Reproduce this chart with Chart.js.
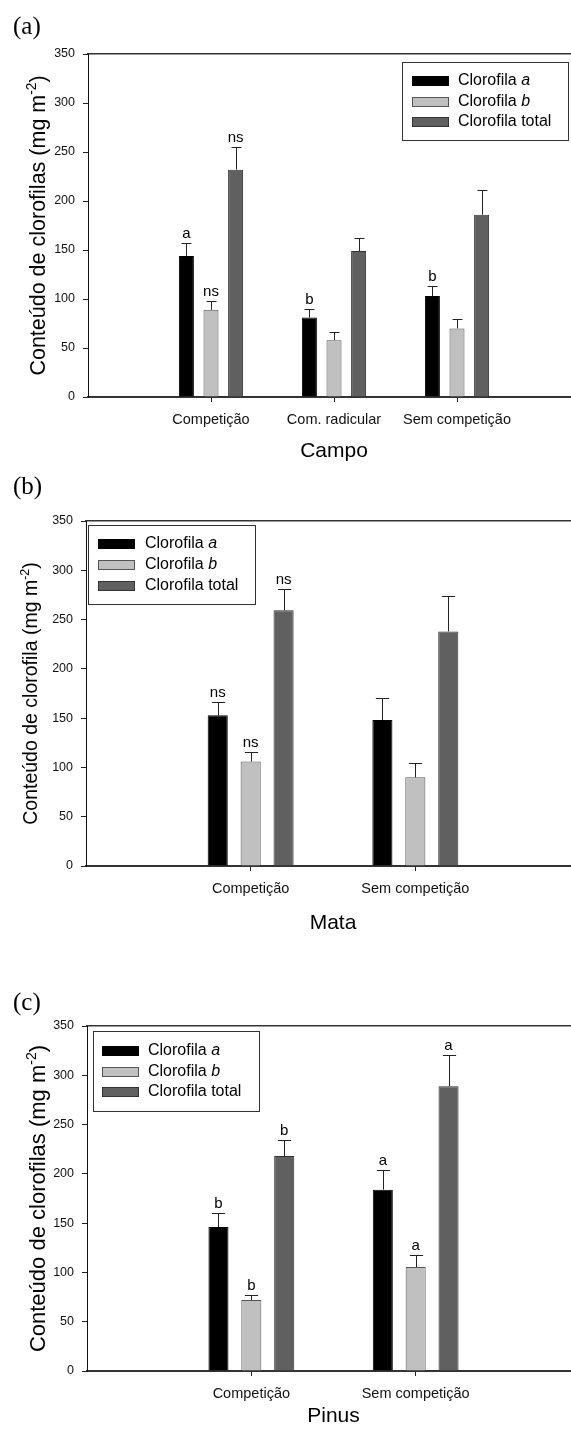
<!DOCTYPE html>
<html lang="pt">
<head>
<meta charset="UTF-8">
<title>Conteúdo de clorofilas</title>
<script src="https://cdn.jsdelivr.net/npm/chart.js@4"></script>
<style>
  html, body { margin: 0; padding: 0; background: #fff; overflow: hidden; }
  body { width: 571px; height: 1437px; position: relative; }
  .panel { position: absolute; left: 0; width: 600px; }
  .panel canvas { display: block; }
  .tag {
    position: absolute; left: 13px; color: #000; line-height: 1;
    font: 25px "Liberation Serif", "Times New Roman", serif;
  }
</style>
</head>
<body>
  <div class="panel" style="top:0px"><canvas id="chartCampo" width="600" height="470"></canvas></div>
  <div class="panel" style="top:470px"><canvas id="chartMata" width="600" height="485"></canvas></div>
  <div class="panel" style="top:955px"><canvas id="chartPinus" width="600" height="482"></canvas></div>
  <div class="tag" style="top:12px">(a)</div>
  <div class="tag" style="top:472px">(b)</div>
  <div class="tag" style="top:988px">(c)</div>

<script>
// chlorophyll content, mg m-2 (mean and upper error)
const yTicks = [0, 50, 100, 150, 200, 250, 300, 350];
const seriesNames = ['Clorofila a', 'Clorofila b', 'Clorofila total'];

const campoCats = ['Competição', 'Com. radicular', 'Sem competição'];
const campoA = [144, 81, 103];
const campoAErr = [13, 9, 10];
const campoB = [89, 58, 70];
const campoBErr = [9, 8, 10];
const campoTotal = [232, 149, 186];
const campoTotalErr = [23, 13, 25];
const campoALetters = ['a', 'b', 'b'];
const campoBLetters = ['ns', '', ''];
const campoTotalLetters = ['ns', '', ''];

const mataCats = ['Competição', 'Sem competição'];
const mataA = [153, 148];
const mataAErr = [13, 22];
const mataB = [106, 90];
const mataBErr = [10, 15];
const mataTotal = [259.5, 238];
const mataTotalErr = [21.5, 36];
const mataALetters = ['ns', ''];
const mataBLetters = ['ns', ''];
const mataTotalLetters = ['ns', ''];

const pinusCats = ['Competição', 'Sem competição'];
const pinusA = [146, 184];
const pinusAErr = [14, 19.5];
const pinusB = [72, 105.5];
const pinusBErr = [5.5, 12];
const pinusTotal = [218, 289];
const pinusTotalErr = [16, 32];
const pinusALetters = ['b', 'a'];
const pinusBLetters = ['b', 'a'];
const pinusTotalLetters = ['b', 'a'];

const SANS = '"Liberation Sans", Arial, sans-serif';
const fills = ['#000000', '#c0c0c0', '#606060'];
const edges = ['#000000', '#555555', '#333333'];

// pad with an empty slot on each side so the groups sit at 1..n of a 0..n+1 axis
const padded = arr => [null, ...arr, null];

// upward error bars with caps, plus the significance letters above them
const errorBars = {
  id: 'errorBars',
  afterDatasetsDraw(chart) {
    const {ctx} = chart;
    const y = chart.scales.y;
    ctx.save();
    chart.data.datasets.forEach((ds, i) => {
      const meta = chart.getDatasetMeta(i);
      meta.data.forEach((bar, j) => {
        const v = ds.data[j];
        if (v == null) return;
        const top = y.getPixelForValue(v + ds.errors[j]);
        const half = bar.width * 0.33;
        const bx = Math.round(bar.x) + 0.5;
        const ty = Math.round(top) + 0.5;
        ctx.strokeStyle = '#222';
        ctx.lineWidth = 1;
        ctx.beginPath();
        ctx.moveTo(bx, bar.y);
        ctx.lineTo(bx, ty);
        ctx.moveTo(bx - half, ty);
        ctx.lineTo(bx + half, ty);
        ctx.stroke();
        const letter = ds.letters[j];
        if (letter) {
          ctx.fillStyle = '#000';
          ctx.font = '15px ' + SANS;
          ctx.textAlign = 'center';
          ctx.textBaseline = 'alphabetic';
          ctx.fillText(letter, bar.x, top - 5);
        }
      });
    });
    ctx.restore();
  }
};

// framed legend; a single trailing letter in a label is set in italics
const boxLegend = {
  id: 'boxLegend',
  afterDraw(chart, args, o) {
    const {ctx} = chart;
    ctx.save();
    ctx.lineWidth = 1;
    ctx.strokeStyle = '#333';
    ctx.strokeRect(o.left + 0.5, o.top + 0.5, o.width, o.height);
    chart.data.datasets.forEach((ds, i) => {
      const cy = o.top + o.firstRow + i * o.rowGap;
      const sx = o.left + o.swatchX;
      ctx.fillStyle = ds.backgroundColor;
      ctx.fillRect(sx, Math.round(cy - 5), 37, 10);
      ctx.strokeStyle = ds.borderColor;
      ctx.strokeRect(sx + 0.5, Math.round(cy - 5) + 0.5, 36, 9);

      const words = ds.label.split(' ');
      const last = words.pop();
      const italic = last.length === 1;
      const head = italic ? words.join(' ') + ' ' : ds.label;
      let x = o.left + o.textX;
      ctx.fillStyle = '#000';
      ctx.textAlign = 'left';
      ctx.textBaseline = 'middle';
      ctx.font = '16px ' + SANS;
      ctx.fillText(head, x, cy);
      if (italic) {
        x += ctx.measureText(head).width;
        ctx.font = 'italic 16px ' + SANS;
        ctx.fillText(last, x, cy);
      }
    });
    ctx.restore();
  }
};

// rotated y title with a raised exponent
const yTitle = {
  id: 'yTitle',
  afterDraw(chart, args, o) {
    const {ctx, chartArea} = chart;
    const cy = (chartArea.top + chartArea.bottom) / 2;
    const main = o.size + 'px ' + SANS;
    const small = (o.size * 0.64) + 'px ' + SANS;
    ctx.save();
    ctx.translate(o.x, cy);
    ctx.rotate(-Math.PI / 2);
    ctx.fillStyle = '#000';
    ctx.textAlign = 'left';
    ctx.textBaseline = 'alphabetic';
    ctx.font = main;
    const w1 = ctx.measureText(o.text).width;
    const w3 = ctx.measureText(')').width;
    ctx.font = small;
    const w2 = ctx.measureText(o.sup).width;
    let x = -(w1 + w2 + w3) / 2;
    ctx.font = main;
    ctx.fillText(o.text, x, 0);
    x += w1;
    ctx.font = small;
    ctx.fillText(o.sup, x, -o.size * 0.42);
    x += w2;
    ctx.font = main;
    ctx.fillText(')', x, 0);
    ctx.restore();
  }
};

function makePanel(id, p) {
  const canvas = document.getElementById(id);
  const titleLH = 21 * 1.2;
  const xHeight = p.titleOffset + titleLH / 2;
  const labels = ['', ...p.cats, ''];

  const datasets = p.series.map((s, i) => ({
    label: seriesNames[i],
    data: padded(s.values),
    errors: padded(s.errors),
    letters: padded(s.letters),
    backgroundColor: fills[i],
    borderColor: edges[i],
    borderWidth: 1,
    categoryPercentage: 0.6,
    barPercentage: 0.61
  }));

  return new Chart(canvas, {
    type: 'bar',
    data: { labels, datasets },
    plugins: [errorBars, boxLegend, yTitle],
    options: {
      responsive: false,
      animation: false,
      layout: {
        padding: {
          left: 0,
          right: canvas.width - 580,
          top: p.top,
          bottom: canvas.height - p.bottom - xHeight
        }
      },
      plugins: {
        legend: { display: false },
        tooltip: { enabled: false },
        boxLegend: p.legend,
        yTitle: p.yTitle
      },
      scales: {
        x: {
          type: 'category',
          offset: false,
          grid: {
            offset: false,
            drawOnChartArea: false,
            drawTicks: true,
            tickLength: 5,
            tickWidth: 1,
            tickColor: c => (c.tick && c.tick.label) ? '#222' : 'rgba(0,0,0,0)'
          },
          border: { display: true, color: '#333', width: 2 },
          ticks: {
            autoSkip: false,
            maxRotation: 0,
            padding: 9,
            color: '#111',
            font: { family: SANS, size: 14.5 }
          },
          title: {
            display: true,
            text: p.xTitle,
            color: '#000',
            padding: 0,
            font: { family: SANS, size: 21 }
          },
          afterFit: s => { s.height = xHeight; }
        },
        top: {
          type: 'category',
          position: 'top',
          display: true,
          offset: false,
          grid: { display: false, drawTicks: false },
          ticks: { display: false },
          border: { display: true, color: '#333', width: 1.5 },
          afterFit: s => { s.height = 0; }
        },
        y: {
          min: 0,
          max: 350,
          afterBuildTicks: s => { s.ticks = yTicks.map(v => ({ value: v })); },
          grid: {
            drawOnChartArea: false,
            drawTicks: true,
            tickLength: 5,
            tickColor: '#222'
          },
          border: { display: true, color: '#111', width: 1 },
          ticks: {
            padding: 8,
            color: '#111',
            font: { family: SANS, size: 12.5 }
          },
          afterFit: s => { s.width = p.left; }
        }
      }
    }
  });
}

makePanel('chartCampo', {
  cats: campoCats,
  series: [
    { values: campoA, errors: campoAErr, letters: campoALetters },
    { values: campoB, errors: campoBErr, letters: campoBLetters },
    { values: campoTotal, errors: campoTotalErr, letters: campoTotalLetters }
  ],
  left: 88, top: 54, bottom: 397, titleOffset: 54,
  xTitle: 'Campo',
  yTitle: { text: 'Conteúdo de clorofilas (mg m', sup: '-2', size: 21.5, x: 45 },
  legend: { left: 402, top: 62, width: 166, height: 78, swatchX: 10, textX: 56, firstRow: 19, rowGap: 20.5 }
});

makePanel('chartMata', {
  cats: mataCats,
  series: [
    { values: mataA, errors: mataAErr, letters: mataALetters },
    { values: mataB, errors: mataBErr, letters: mataBLetters },
    { values: mataTotal, errors: mataTotalErr, letters: mataTotalLetters }
  ],
  left: 86, top: 51, bottom: 396, titleOffset: 57,
  xTitle: 'Mata',
  yTitle: { text: 'Conteúdo de clorofila (mg m', sup: '-2', size: 19.5, x: 37 },
  legend: { left: 88, top: 55, width: 167, height: 79, swatchX: 10, textX: 57, firstRow: 19, rowGap: 21 }
});

makePanel('chartPinus', {
  cats: pinusCats,
  series: [
    { values: pinusA, errors: pinusAErr, letters: pinusALetters },
    { values: pinusB, errors: pinusBErr, letters: pinusBLetters },
    { values: pinusTotal, errors: pinusTotalErr, letters: pinusTotalLetters }
  ],
  left: 87, top: 71, bottom: 416, titleOffset: 45,
  xTitle: 'Pinus',
  yTitle: { text: 'Conteúdo de clorofilas (mg m', sup: '-2', size: 22, x: 45 },
  legend: { left: 93, top: 76, width: 166, height: 80, swatchX: 9, textX: 55, firstRow: 20, rowGap: 20.5 }
});
</script>
</body>
</html>
